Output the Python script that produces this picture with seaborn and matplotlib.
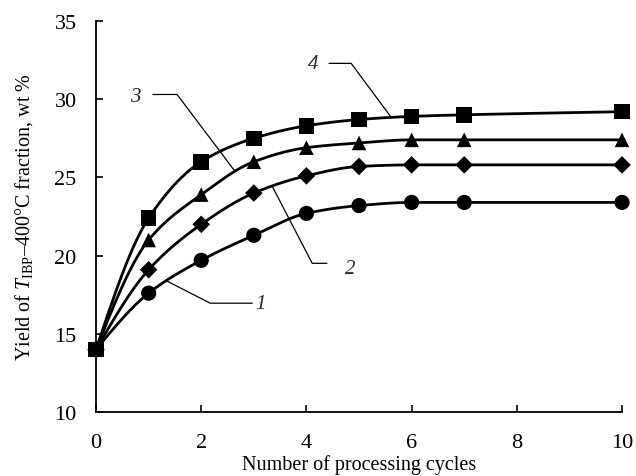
import numpy as np
import pandas as pd
import matplotlib
matplotlib.use("Agg")
import matplotlib.pyplot as plt
import seaborn as sns

# Processing cycles and yields (wt %) for the four curves
cycles = [0, 1, 2, 3, 4, 5, 6, 7, 10]
yield_1 = [14.0, 17.6, 19.7, 21.3, 22.7, 23.2, 23.4, 23.4, 23.4]
yield_2 = [14.0, 19.1, 22.0, 24.0, 25.1, 25.7, 25.8, 25.8, 25.8]
yield_3 = [14.0, 21.0, 23.9, 26.0, 26.9, 27.2, 27.4, 27.4, 27.4]
yield_4 = [14.0, 22.4, 26.0, 27.5, 28.3, 28.7, 28.9, 29.0, 29.2]
curve_labels = ["1", "2", "3", "4"]
markers = ["o", "D", "^", "s"]
marker_sizes = [120, 80, 110, 125]

x_ticks = [0, 2, 4, 6, 8, 10]
y_ticks = [10, 15, 20, 25, 30, 35]


def pchip(x, y, xs):
    """Monotone cubic (Fritsch-Carlson) curve through the points."""
    x = np.asarray(x, float)
    y = np.asarray(y, float)
    h = np.diff(x)
    d = np.diff(y) / h
    m = np.zeros_like(y)
    for k in range(1, len(x) - 1):
        if d[k - 1] * d[k] > 0:
            w1 = 2 * h[k] + h[k - 1]
            w2 = h[k] + 2 * h[k - 1]
            m[k] = (w1 + w2) / (w1 / d[k - 1] + w2 / d[k])
    m[0] = d[0] * 1.5 - m[1] * 0.5 if d[0] != 0 else 0
    if m[0] * d[0] <= 0:
        m[0] = 0
    m[-1] = 0 if d[-1] == 0 else d[-1]
    out = np.empty_like(xs)
    idx = np.clip(np.searchsorted(x, xs) - 1, 0, len(x) - 2)
    for i, xv in enumerate(xs):
        k = idx[i]
        t = (xv - x[k]) / h[k]
        h00 = 2 * t**3 - 3 * t**2 + 1
        h10 = t**3 - 2 * t**2 + t
        h01 = -2 * t**3 + 3 * t**2
        h11 = t**3 - t**2
        out[i] = h00 * y[k] + h10 * h[k] * m[k] + h01 * y[k + 1] + h11 * h[k] * m[k + 1]
    return out


sns.set_theme(style="ticks")
plt.rcParams["font.family"] = ["Liberation Serif", "DejaVu Serif"]
plt.rcParams["mathtext.fontset"] = "custom"
plt.rcParams["mathtext.rm"] = "Liberation Serif"
plt.rcParams["mathtext.it"] = "Liberation Serif:italic"

fig = plt.figure(figsize=(6.36, 4.77), dpi=100)
ax = fig.add_axes([0.151, 0.134, 0.827, 0.820])

series = [yield_1, yield_2, yield_3, yield_4]
xs = np.linspace(0, 10, 400)
for ys in series:
    smooth = pd.DataFrame({"x": xs, "y": pchip(cycles, ys, xs)})
    sns.lineplot(data=smooth, x="x", y="y", ax=ax, color="black", lw=2.0)

for ys, mk, ms in zip(series, markers, marker_sizes):
    pts = pd.DataFrame({"x": cycles, "y": ys})
    sns.scatterplot(data=pts, x="x", y="y", ax=ax, marker=mk, s=ms,
                    color="black", edgecolor="none", zorder=5)
for coll in ax.collections:
    coll.set_clip_on(False)

# Curve labels with leader lines
leaders = {
    "4": ([4.43, 4.85, 5.61], [32.29, 32.29, 28.85], (4.12, 32.29)),
    "3": ([1.08, 1.54, 2.64], [30.30, 30.30, 25.40], (0.74, 30.18)),
    "2": ([4.39, 4.11, 3.35], [19.51, 19.51, 24.43], (4.83, 19.15)),
    "1": ([2.97, 2.17, 1.35], [16.96, 16.96, 18.37], (3.12, 16.96)),
}
for lab in curve_labels:
    lx, ly, (tx, ty) = leaders[lab]
    ax.plot(lx, ly, color="black", lw=0.9)
    ax.text(tx, ty, lab, fontsize=15, fontstyle="italic",
            ha="center", va="center")

ax.set_xlim(0, 10)
ax.set_ylim(10, 35)
ax.set_xticks(x_ticks)
ax.set_yticks(y_ticks)
ax.set_xticklabels([str(v) for v in x_ticks])
ax.set_yticklabels([str(v) for v in y_ticks])
ax.tick_params(axis="both", direction="in", length=5, width=1.2,
               labelsize=16, color="black", labelcolor="black")
ax.tick_params(axis="x", pad=15)
ax.tick_params(axis="y", pad=14)
sns.despine(ax=ax)
for sp in ("left", "bottom"):
    ax.spines[sp].set_linewidth(1.3)
    ax.spines[sp].set_color("black")

ax.set_xlabel("Number of processing cycles", fontsize=14.5, labelpad=1.5,
              color="black")
ax.set_ylabel(r"Yield of $T_{\mathrm{IBP}}$–400°C fraction, wt %",
              fontsize=14.5, labelpad=14, color="black")

fig.savefig("out.png", dpi=100)
